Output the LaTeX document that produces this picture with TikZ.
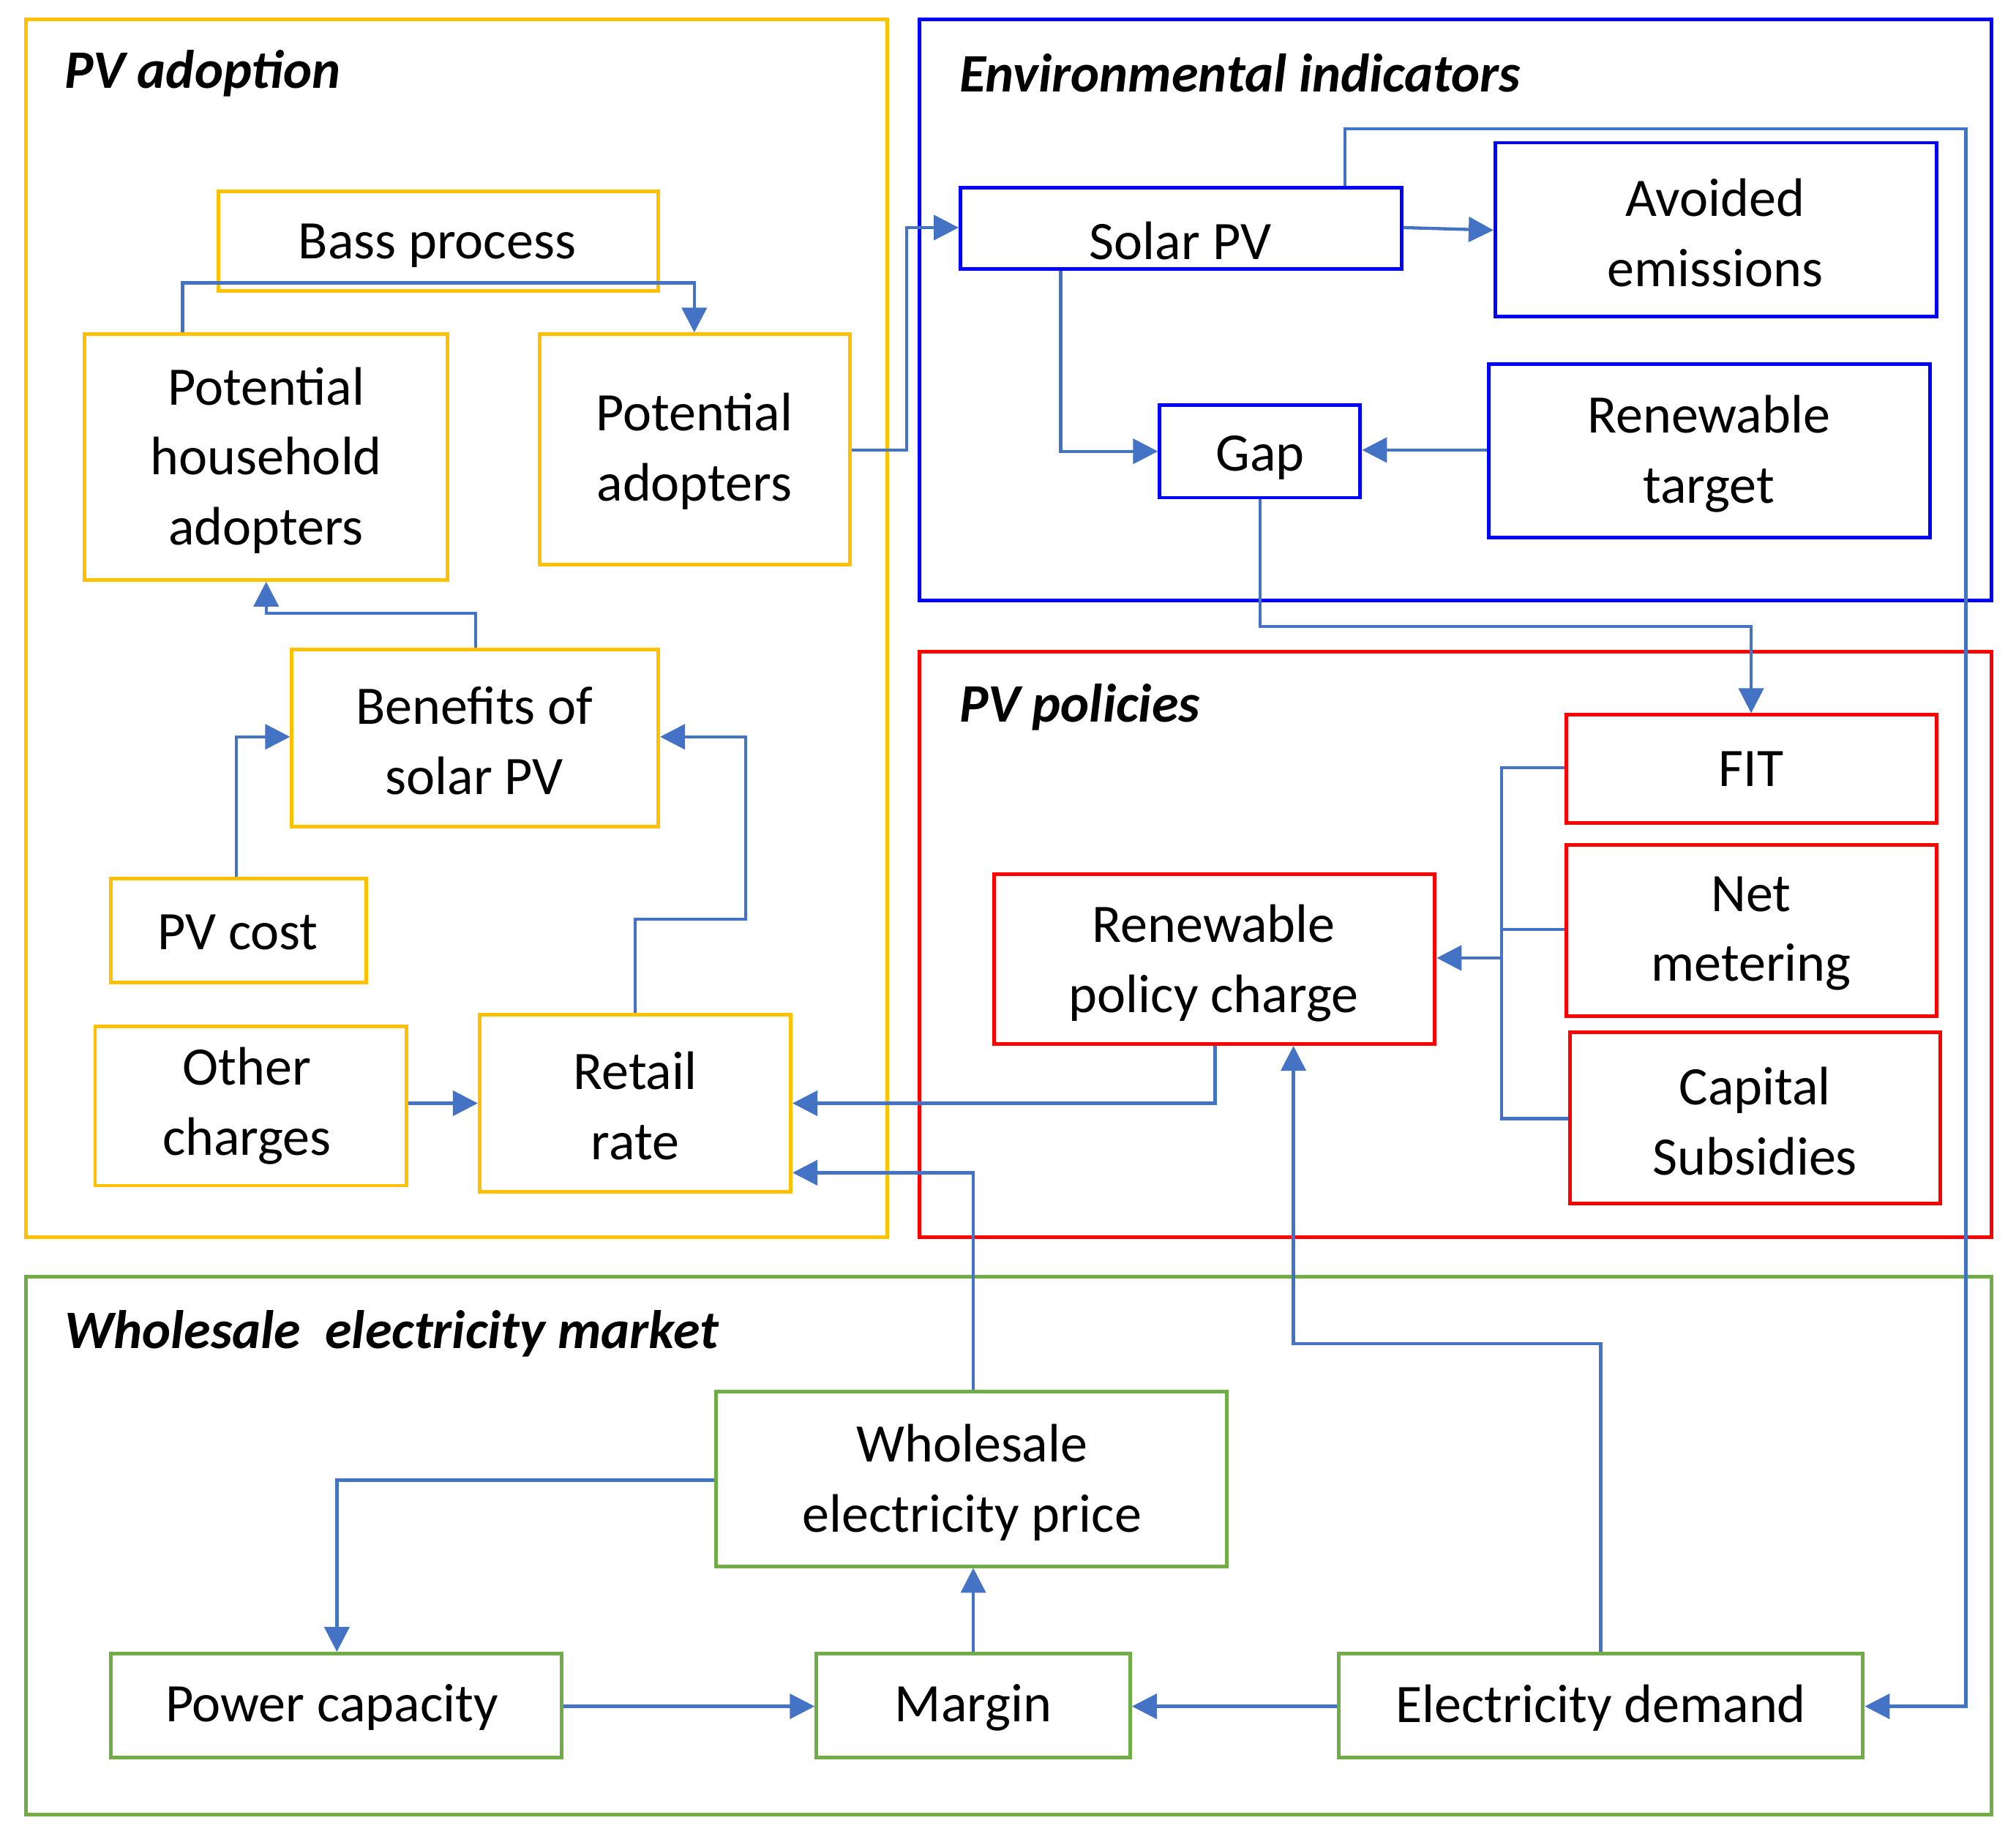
\documentclass[tikz,border=0pt]{standalone}
\usepackage{fontspec}
\setmainfont{Carlito}
\usetikzlibrary{fit,arrows.meta}
\definecolor{org}{HTML}{FFC000}
\definecolor{blu}{HTML}{0000FF}
\definecolor{rd}{HTML}{FF0000}
\definecolor{grn}{HTML}{70AD47}
\definecolor{arr}{HTML}{4472C4}
\begin{document}
\begin{tikzpicture}[x=0.02cm,y=-0.02cm,
 bx/.style={draw=#1,line width=1.6pt,inner sep=0pt,align=center,font=\fontsize{24}{31}\selectfont},
 grp/.style={draw=#1,line width=1.6pt},
 ttl/.style={anchor=west,font=\fontsize{24}{31}\selectfont\bfseries\itshape},
 ar/.style={draw=arr,line width=1.4pt,-{Triangle[length=11pt,width=11pt]}},
 ln/.style={draw=arr,line width=1.4pt}]
\useasboundingbox (0,0) rectangle (1568,1426);
\draw[grp=org] (20,15) rectangle (690,962);
\draw[grp=blu] (715,15) rectangle (1549,467);
\draw[grp=rd] (715,507) rectangle (1549,962);
\draw[grp=grn] (20,993) rectangle (1549,1411);
\node[ttl] (t1) at (44,57) {PV adoption};
\node[ttl] (t2) at (740,57) {Environmental indicators};
\node[ttl] (t3) at (740,550) {PV policies};
\node[ttl] (t4) at (44,1037) {Wholesale\ \ electricity market};
\node[bx=org,fit={(170,149)(512,226)}] (bass) {};
\node[font=\fontsize{24}{31}\selectfont] at (340,191) {Bass process};
\node[bx=org,fit={(66,260)(348,451)}] (pha) {};
\node[font=\fontsize{24}{31}\selectfont,align=center] at (207,358) {Potential\\household\\adopters};
\node[bx=org,fit={(420,260)(661,439)}] (pa) {};
\node[font=\fontsize{24}{31}\selectfont,align=center] at (540,351) {Potential\\adopters};
\node[bx=org,fit={(227,505)(512,643)}] (ben) {};
\node[font=\fontsize{24}{31}\selectfont,align=center] at (369,576) {Benefits of\\solar PV};
\node[bx=org,fit={(86,683)(285,764)}] (pvc) {};
\node[font=\fontsize{24}{31}\selectfont] at (185,725) {PV cost};
\node[bx=org,fit={(74,798)(316,922)}] (oth) {};
\node[font=\fontsize{24}{31}\selectfont,align=center] at (192,860) {Other\\charges};
\node[bx=org,fit={(373,789)(615,927)}] (ret) {};
\node[font=\fontsize{24}{31}\selectfont,align=center] at (494,860) {Retail\\rate};
\node[bx=blu,fit={(747,146)(1090,209)}] (sol) {};
\node[font=\fontsize{24}{31}\selectfont] at (918,187) {Solar PV};
\node[bx=blu,fit={(1163,111)(1506,246)}] (avo) {};
\node[font=\fontsize{24}{31}\selectfont,align=center] at (1334,181) {Avoided\\emissions};
\node[bx=blu,fit={(902,315)(1058,387)}] (gap) {};
\node[font=\fontsize{24}{31}\selectfont] at (980,356) {Gap};
\node[bx=blu,fit={(1158,283)(1501,418)}] (rt) {};
\node[font=\fontsize{24}{31}\selectfont,align=center] at (1329,353) {Renewable\\target};
\node[bx=rd,fit={(1218,556)(1506,640)}] (fit) {};
\node[font=\fontsize{24}{31}\selectfont] at (1362,598) {FIT};
\node[bx=rd,fit={(1218,657)(1506,790)}] (net) {};
\node[font=\fontsize{24}{31}\selectfont,align=center] at (1362,726) {Net\\metering};
\node[bx=rd,fit={(1221,803)(1509,936)}] (cap) {};
\node[font=\fontsize{24}{31}\selectfont,align=center] at (1365,872) {Capital\\Subsidies};
\node[bx=rd,fit={(773,680)(1116,812)}] (rpc) {};
\node[font=\fontsize{24}{31}\selectfont,align=center] at (944,749) {Renewable\\policy charge};
\node[bx=grn,fit={(557,1082)(954,1218)}] (wep) {};
\node[font=\fontsize{24}{31}\selectfont,align=center] at (756,1153) {Wholesale\\electricity price};
\node[bx=grn,fit={(86,1286)(437,1367)}] (pc) {};
\node[font=\fontsize{24}{31}\selectfont] at (258,1328) {Power capacity};
\node[bx=grn,fit={(635,1286)(879,1367)}] (mar) {};
\node[font=\fontsize{24}{31}\selectfont] at (757,1328) {Margin};
\node[bx=grn,fit={(1041,1286)(1449,1367)}] (ed) {};
\node[font=\fontsize{24}{31}\selectfont] at (1245,1328) {Electricity demand};
% connectors
\draw[ar] (142,0 |- pha.north) -- (142,220) -- (540,220) -- (540,0 |- pa.north);
\draw[ar] (pa.east |- 0,350) -- (705,350) -- (705,177) -- (sol.west |- 0,177);
\draw[ar] (sol.east |- 0,177) -- (avo.west |- 0,179);
\draw[ar] (1046,0 |- sol.north) -- (1046,100) -- (1529,100) -- (1529,1327) -- (ed.east |- 0,1327);
\draw[ar] (825,0 |- sol.south) -- (825,351) -- (gap.west |- 0,351);
\draw[ar] (rt.west |- 0,350) -- (gap.east |- 0,350);
\draw[ar] (gap.south) -- (980,487) -- (1362,487) -- (1362,0 |- fit.north);
\draw[ln] (fit.west |- 0,597) -- (1168,597) -- (1168,870) -- (cap.west |- 0,870);
\draw[ln] (net.west |- 0,723) -- (1168,723);
\draw[ar] (1168,745) -- (rpc.east |- 0,745);
\draw[ar] (945,0 |- rpc.south) -- (945,858) -- (ret.east |- 0,858);
\draw[ar] (1245,0 |- ed.north) -- (1245,1045) -- (1006,1045) -- (1006,0 |- rpc.south);
\draw[ar] (757,0 |- wep.north) -- (757,912) -- (ret.east |- 0,912);
\draw[ar] (wep.west |- 0,1151) -- (262,1151) -- (262,0 |- pc.north);
\draw[ar] (pc.east |- 0,1327) -- (mar.west |- 0,1327);
\draw[ar] (757,0 |- mar.north) -- (757,0 |- wep.south);
\draw[ar] (ed.west |- 0,1327) -- (mar.east |- 0,1327);
\draw[ar] (494,0 |- ret.north) -- (494,715) -- (580,715) -- (580,573) -- (ben.east |- 0,573);
\draw[ar] (184,0 |- pvc.north) -- (184,573) -- (ben.west |- 0,573);
\draw[ar] (370,0 |- ben.north) -- (370,477) -- (207,477) -- (207,0 |- pha.south);
\draw[ar] (oth.east |- 0,858) -- (ret.west |- 0,858);
\end{tikzpicture}
\end{document}
